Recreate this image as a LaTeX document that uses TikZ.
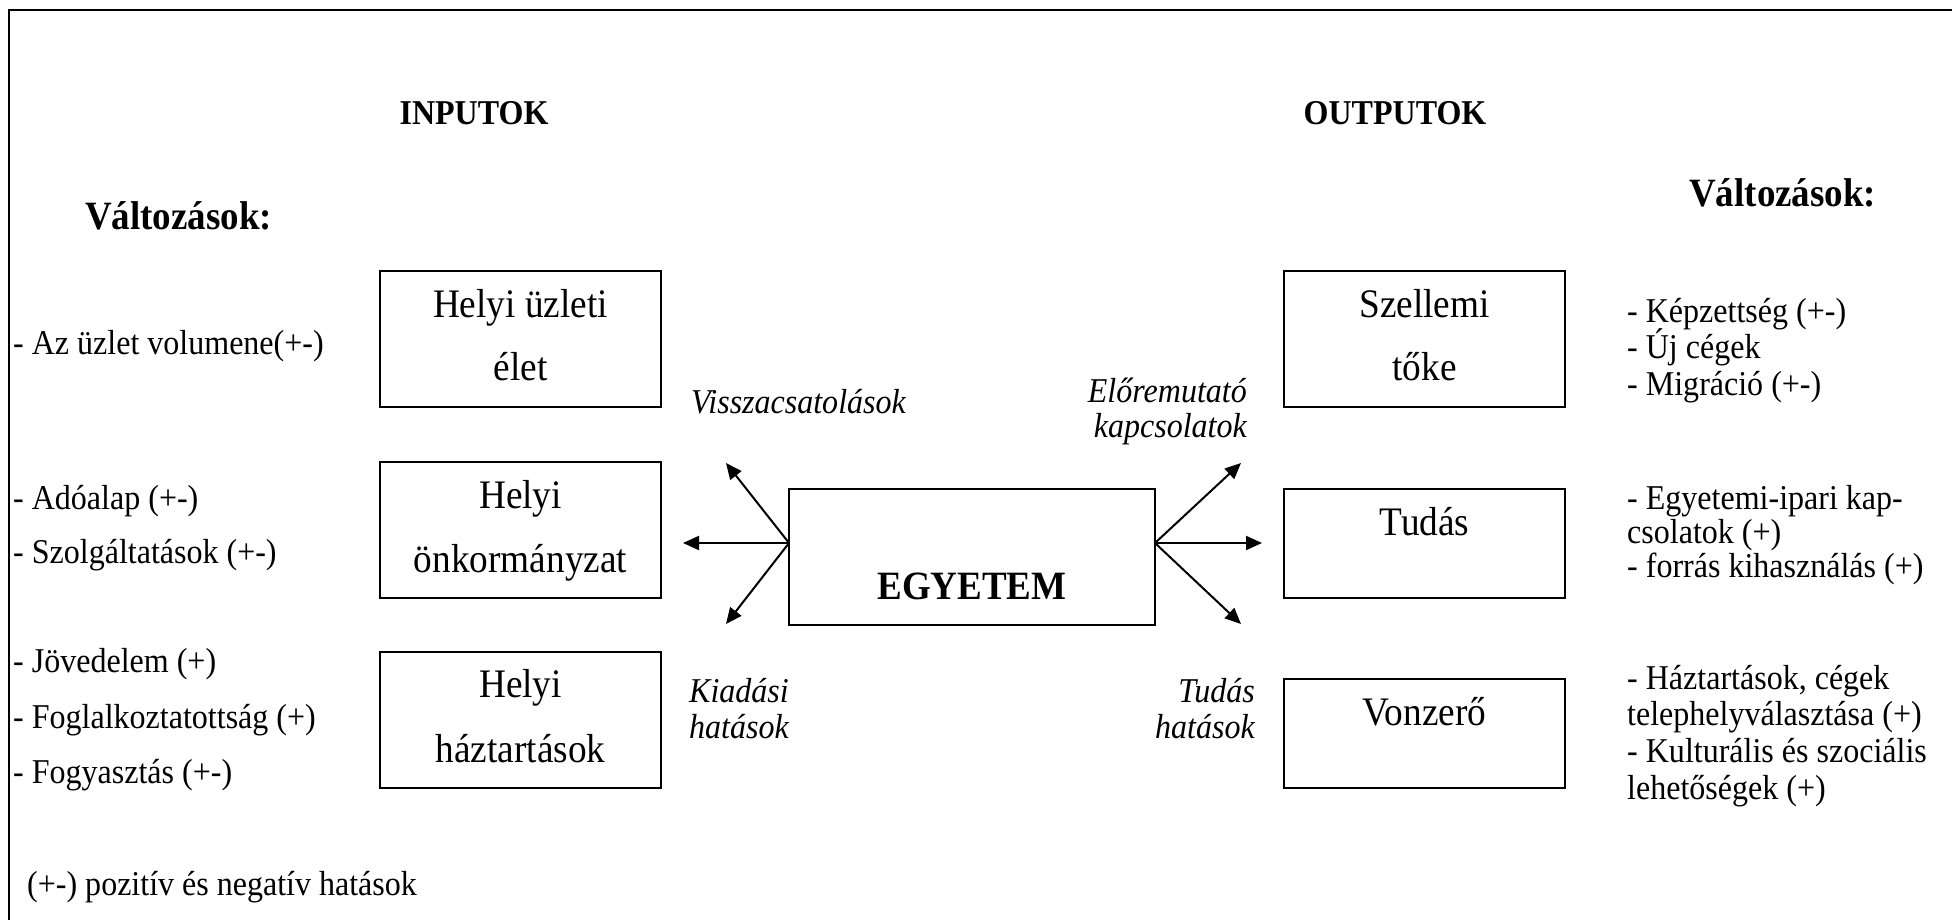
\documentclass[tikz,border=0pt]{standalone}
\usepackage{fontspec}
\setmainfont{Liberation Serif}[FakeStretch=0.92]
\usetikzlibrary{arrows.meta}
\begin{document}
\begin{tikzpicture}[x=1pt,y=-1pt,
  frame/.style={line width=2.5pt},
  box/.style={draw,line width=2.5pt,inner sep=0pt,minimum width=281pt,minimum height=136pt},
  lowbox/.style={box,minimum height=109pt},
  widebox/.style={box,minimum width=366pt},
  boxtxt/.style={inner sep=0pt,font=\fontsize{40.5}{48}\selectfont},
  lbl/.style={inner sep=0pt,font=\fontsize{34.8}{41}\selectfont},
  ital/.style={inner sep=0pt,font=\itshape\fontsize{34.8}{41}\selectfont},
  head/.style={inner sep=0pt,font=\bfseries\fontsize{34.8}{41}\selectfont},
  bighead/.style={inner sep=0pt,font=\bfseries\fontsize{40.2}{48}\selectfont},
  link/.style={line width=2pt,-{Triangle[length=16pt,width=14pt]}}
]
\useasboundingbox (0,0) rectangle (1952,920);

% open frame: top and left edges only
\coordinate (fTR) at (1952,10);
\coordinate (fTL) at (9,10);
\coordinate (fBL) at (9,920);
\draw[frame] (fTR) -- (fTL) -- (fBL);

% column headings
\node[head,anchor=base] (hIn) at (474,125) {INPUTOK};
\node[head,anchor=base] (hOut) at (1395,125) {OUTPUTOK};
\node[bighead,anchor=base west] (vL) at (85,230) {Változások:};
\node[bighead,anchor=base west] (vR) at (1689,207) {Változások:};

% input boxes
\node[box] (bUz) at (520.5,339) {};
\node[boxtxt,anchor=base] (tUz1) at (520.5,317) {Helyi üzleti};
\node[boxtxt,anchor=base] (tUz2) at (520.5,380) {élet};

\node[box] (bOnk) at (520.5,530) {};
\node[boxtxt,anchor=base] (tOnk1) at (520.5,508) {Helyi};
\node[boxtxt,anchor=base] (tOnk2) at (520.5,572) {önkormányzat};

\node[box] (bHaz) at (520.5,720) {};
\node[boxtxt,anchor=base] (tHaz1) at (520.5,697) {Helyi};
\node[boxtxt,anchor=base] (tHaz2) at (520.5,762) {háztartások};

% university
\node[widebox] (bEgy) at (972,557) {};
\node[bighead,anchor=base] (tEgy) at (972,599) {EGYETEM};

% output boxes
\node[box] (bSzel) at (1424.5,339) {};
\node[boxtxt,anchor=base] (tSzel1) at (1424.5,317) {Szellemi};
\node[boxtxt,anchor=base] (tSzel2) at (1424.5,380) {tőke};

\node[lowbox] (bTud) at (1424.5,543.5) {};
\node[boxtxt,anchor=base] (tTud) at (1424.5,535) {Tudás};

\node[lowbox] (bVon) at (1424.5,733.5) {};
\node[boxtxt,anchor=base] (tVon) at (1424.5,725) {Vonzerő};

% arrows leaving the university
\coordinate (eL) at (789,543);
\coordinate (eR) at (1155,543);
\coordinate (aLU) at (726,463);
\coordinate (aL) at (683,543);
\coordinate (aLD) at (726,624);
\coordinate (aRU) at (1241,463);
\coordinate (aR) at (1262,543);
\coordinate (aRD) at (1241,624);
\draw[link] (eL) -- (aLU);
\draw[link] (eL) -- (aL);
\draw[link] (eL) -- (aLD);
\draw[link] (eR) -- (aRU);
\draw[link] (eR) -- (aR);
\draw[link] (eR) -- (aRD);

% arrow labels
\node[ital,anchor=base west] (lVissza) at (691,413) {Visszacsatolások};
\node[ital,anchor=base east] (lElo1) at (1247,402) {Előremutató};
\node[ital,anchor=base east] (lElo2) at (1247,437) {kapcsolatok};
\node[ital,anchor=base west] (lKiad1) at (689,702) {Kiadási};
\node[ital,anchor=base west] (lKiad2) at (689,738) {hatások};
\node[ital,anchor=base east] (lTud1) at (1255,702) {Tudás};
\node[ital,anchor=base east] (lTud2) at (1255,738) {hatások};

% input changes
\node[lbl,anchor=base west] (i1) at (13,354) {- Az üzlet volumene(+-)};
\node[lbl,anchor=base west] (i2) at (13,509) {- Adóalap (+-)};
\node[lbl,anchor=base west] (i3) at (13,563) {- Szolgáltatások (+-)};
\node[lbl,anchor=base west] (i4) at (13,672) {- Jövedelem (+)};
\node[lbl,anchor=base west] (i5) at (13,728) {- Foglalkoztatottság (+)};
\node[lbl,anchor=base west] (i6) at (13,783) {- Fogyasztás (+-)};

% output changes
\node[lbl,anchor=base west] (o1) at (1627,322) {- Képzettség (+-)};
\node[lbl,anchor=base west] (o2) at (1627,358) {- Új cégek};
\node[lbl,anchor=base west] (o3) at (1627,395) {- Migráció (+-)};
\node[lbl,anchor=base west] (o4) at (1627,509) {- Egyetemi-ipari kap-};
\node[lbl,anchor=base west] (o5) at (1627,543) {csolatok (+)};
\node[lbl,anchor=base west] (o6) at (1627,577) {- forrás kihasználás (+)};
\node[lbl,anchor=base west] (o7) at (1627,689) {- Háztartások, cégek};
\node[lbl,anchor=base west] (o8) at (1627,725) {telephelyválasztása (+)};
\node[lbl,anchor=base west] (o9) at (1627,762) {- Kulturális és szociális};
\node[lbl,anchor=base west] (o10) at (1627,799) {lehetőségek (+)};

% legend
\node[lbl,anchor=base west] (legend) at (27,895) {(+-) pozitív és negatív hatások};
\end{tikzpicture}
\end{document}
